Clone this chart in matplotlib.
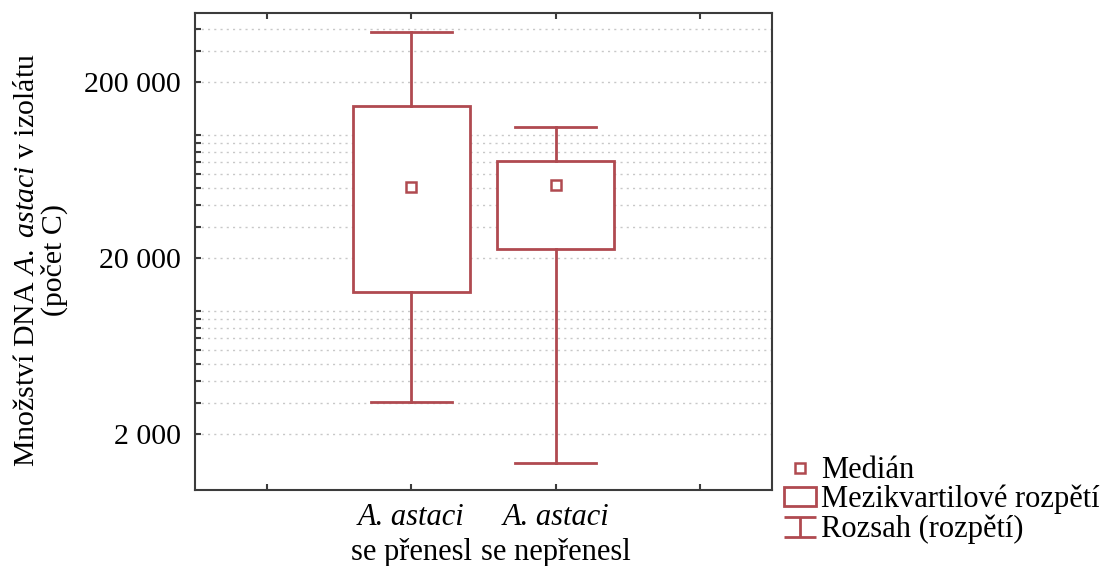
import matplotlib
matplotlib.use("Agg")
import matplotlib.pyplot as plt
from matplotlib.ticker import FixedLocator, NullFormatter
from matplotlib.lines import Line2D
from matplotlib.patches import Rectangle
from matplotlib.path import Path

plt.rcParams["font.family"] = ["Liberation Serif", "DejaVu Serif"]
plt.rcParams["mathtext.fontset"] = "custom"
plt.rcParams["mathtext.rm"] = "Liberation Serif"
plt.rcParams["mathtext.it"] = "Liberation Serif:italic"

# data (log scale)
positions = [2, 3]
group_line1 = ["A. astaci", "A. astaci"]
group_line2 = ["se přenesl", "se nepřenesl"]
medians = [50400, 51900]
q1 = [12900, 22500]
q3 = [146000, 71000]
range_min = [3050, 1370]
range_max = [381000, 110000]

major_ticks = [2000, 20000, 200000]
major_labels = ["2 000", "20 000", "200 000"]
minor_ticks = [3000, 4000, 5000, 6000, 7000, 8000, 9000, 10000,
               30000, 40000, 50000, 60000, 70000, 80000, 90000, 100000,
               300000, 400000]

red = "#b04a50"
dark = "#3c3c3c"
fs = 21.5
fs_txt = 22

fig = plt.figure(figsize=(11.06, 5.66), dpi=100)
ax = fig.add_axes([195 / 1106, 76 / 566, 577 / 1106, 477 / 566])

stats = []
for i in range(len(positions)):
    stats.append(dict(med=medians[i], q1=q1[i], q3=q3[i],
                      whislo=range_min[i], whishi=range_max[i], fliers=[]))

ax.bxp(stats, positions=positions, widths=0.81, capwidths=0.56,
       patch_artist=True, showfliers=False,
       boxprops=dict(facecolor="white", edgecolor=red, linewidth=2),
       whiskerprops=dict(color=red, linewidth=2),
       capprops=dict(color=red, linewidth=2),
       medianprops=dict(visible=False))
ax.plot(positions, medians, "s", ms=7, mfc="white", mec=red, mew=1.8,
        linestyle="none", zorder=5)

ax.set_yscale("log")
ax.set_ylim(966, 490000)
ax.set_xlim(0.5, 4.5)

ax.yaxis.set_major_locator(FixedLocator(major_ticks))
ax.set_yticklabels(major_labels, fontsize=fs)
ax.yaxis.set_minor_locator(FixedLocator(minor_ticks))
ax.yaxis.set_minor_formatter(NullFormatter())
ax.set_xticks([1, 2, 3, 4])
ax.set_xticklabels(["", "", "", ""])

ax.tick_params(axis="y", which="both", direction="in", length=4, width=1.5,
               color=dark, pad=10, left=True, right=False)
ax.tick_params(axis="x", which="both", direction="in", length=4, width=1.5,
               color=dark, top=True, bottom=True)

ax.grid(True, which="both", axis="y", color="#c8c8c8", linewidth=1.0,
        linestyle=(0, (1.5, 3)))
ax.set_axisbelow(True)
for sp in ax.spines.values():
    sp.set_color(dark)
    sp.set_linewidth(1.5)

# category labels: italic genus line + plain line
for i, p in enumerate(positions):
    ax.text(p, -0.058, group_line1[i], transform=ax.get_xaxis_transform(),
            ha="center", va="center", fontsize=fs_txt, style="italic")
    ax.text(p, -0.130, group_line2[i], transform=ax.get_xaxis_transform(),
            ha="center", va="center", fontsize=fs_txt)

fig.text(0.037, 1 - 260 / 566,
         "Množství DNA $\\mathit{A.\\ astaci}$ v izolátu\n(počet C)",
         rotation=90, ha="center", va="center", fontsize=fs,
         multialignment="center", linespacing=1.0)

# legend
range_marker = Path([(-1, 0.62), (1, 0.62), (0, 0.62), (0, -0.62),
                     (-1, -0.62), (1, -0.62)],
                    [Path.MOVETO, Path.LINETO, Path.MOVETO, Path.LINETO,
                     Path.MOVETO, Path.LINETO])
h_med = Line2D([], [], marker="s", ms=6.5, mfc="white", mec=red, mew=1.8,
               linestyle="none")
h_box = Rectangle((0, 0), 1, 1, facecolor="white", edgecolor=red,
                  linewidth=2)
h_rng = Line2D([], [], marker=range_marker, ms=23, mfc="none", mec=red,
               mew=2, linestyle="none")
fig.legend([h_med, h_box, h_rng],
           ["Medián", "Mezikvartilové rozpětí", "Rozsah (rozpětí)"],
           loc="upper left", bbox_to_anchor=(784 / 1106, 1 - 456 / 566),
           frameon=False, fontsize=fs_txt, handlelength=1.05,
           handleheight=0.56, handletextpad=0.15, labelspacing=0.0,
           borderpad=0, borderaxespad=0)

fig.savefig("out.png", dpi=100)
